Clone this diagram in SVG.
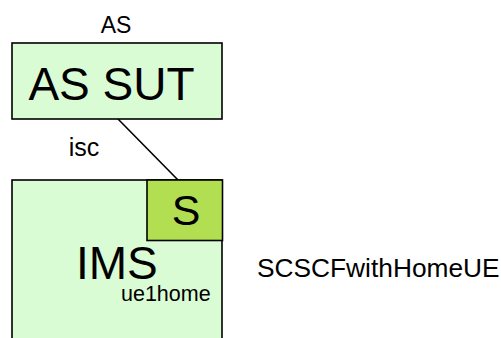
<svg xmlns="http://www.w3.org/2000/svg" width="501" height="338" viewBox="0 0 501 338">
<style>
text{font-family:"Liberation Sans",Arial,sans-serif;fill:#000}
.box{fill:#dafcd5;stroke:#000;stroke-width:1.6}
.sbox{fill:#b2de52;stroke:#000;stroke-width:1.6}
.conn{stroke:#000;stroke-width:1.6;fill:none}
</style>
<rect width="501" height="338" fill="#fff"/>
<g id="connectors">
<line class="conn" x1="118" y1="119" x2="178" y2="180"/>
<text x="84" y="156" font-size="25" text-anchor="middle">isc</text>
</g>
<g id="as-sut">
<text x="116" y="32.5" font-size="23" text-anchor="middle">AS</text>
<rect class="box" x="12" y="43" width="210" height="76"/>
<text x="111.5" y="100" font-size="46" text-anchor="middle">AS SUT</text>
</g>
<g id="ims">
<rect class="box" x="12" y="180" width="210" height="170"/>
<text x="76" y="279" font-size="46">IMS</text>
<text x="121" y="301" font-size="21.5">ue1home</text>
</g>
<g id="s">
<rect class="sbox" x="147" y="180" width="75.5" height="60.5"/>
<text x="186" y="225" font-size="43" text-anchor="middle">S</text>
</g>
<g id="label">
<text x="257" y="277" font-size="26.3">SCSCFwithHomeUE</text>
</g>
</svg>
